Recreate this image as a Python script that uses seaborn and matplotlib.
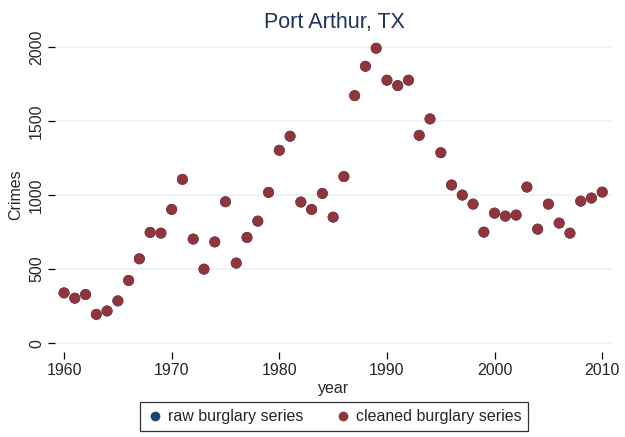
import numpy as np
import pandas as pd
import matplotlib
matplotlib.use("Agg")
import matplotlib.pyplot as plt
import seaborn as sns

years = list(range(1960, 2011))
cleaned = [340, 304, 329, 195, 218, 286, 424, 570, 748, 743,
           903, 1106, 703, 500, 684, 955, 541, 714, 824, 1018,
           1302, 1397, 953, 903, 1011, 851, 1125, 1671, 1869, 1991,
           1775, 1739, 1775, 1403, 1514, 1286, 1068, 1000, 939, 750,
           878, 858, 865, 1054, 770, 939, 811, 743, 959, 980, 1020]
raw = list(cleaned)
series_names = ["raw burglary series", "cleaned burglary series"]
colors = ["#1a476f", "#90353b"]
yticks = [0, 500, 1000, 1500, 2000]
xticks = [1960, 1970, 1980, 1990, 2000, 2010]

df = pd.DataFrame({
    "year": years + years,
    "Crimes": raw + cleaned,
    "series": [series_names[0]] * len(years) + [series_names[1]] * len(years),
})

sns.set_style("white")
plt.rcParams["font.family"] = ["Liberation Sans", "DejaVu Sans"]

fig = plt.figure(figsize=(6.25, 4.37), dpi=100)
ax = fig.add_axes([55 / 625, 1 - 352 / 437, (613 - 55) / 625, (352 - 38) / 437])

sns.scatterplot(data=df, x="year", y="Crimes", hue="series",
                palette=dict(zip(series_names, colors)), s=62,
                linewidth=0, ax=ax, zorder=3)

ax.set_xlim(1959.16, 2011.0)
ax.set_ylim(-59, 2060)
ax.set_yticks(yticks)
ax.set_xticks(xticks)
ax.set_yticklabels([str(v) for v in yticks], rotation=90, va="center", fontsize=11.5)
ax.set_xticklabels([str(v) for v in xticks], fontsize=11.5)
for sp in ax.spines.values():
    sp.set_visible(False)
ax.tick_params(axis="both", direction="out", length=5, width=0.9, color="black",
               left=True, bottom=True, pad=3)
ax.yaxis.grid(True, color="#eaf1f2", linewidth=1.1, zorder=0)
ax.xaxis.grid(False)
ax.set_axisbelow(True)

ax.set_xlabel("year", fontsize=11.5, labelpad=2)
ax.set_ylabel("Crimes", fontsize=11.5, labelpad=4)
ax.set_title("Port Arthur, TX", fontsize=15.5, color="#1e3163", pad=7)

ax.legend_.remove()
handles = [plt.Line2D([], [], marker="o", linestyle="", markersize=7,
                      markerfacecolor=c, markeredgewidth=0) for c in colors]
leg = ax.legend(handles, series_names, loc="upper center",
                bbox_to_anchor=(0.5, -0.159), borderaxespad=0, ncol=2,
                frameon=True, fancybox=False, fontsize=11.5,
                handletextpad=0.3, columnspacing=2.0, handlelength=1.0,
                borderpad=0.45)
leg.get_frame().set_edgecolor("black")
leg.get_frame().set_linewidth(0.9)

fig.savefig("out.png", dpi=100)
